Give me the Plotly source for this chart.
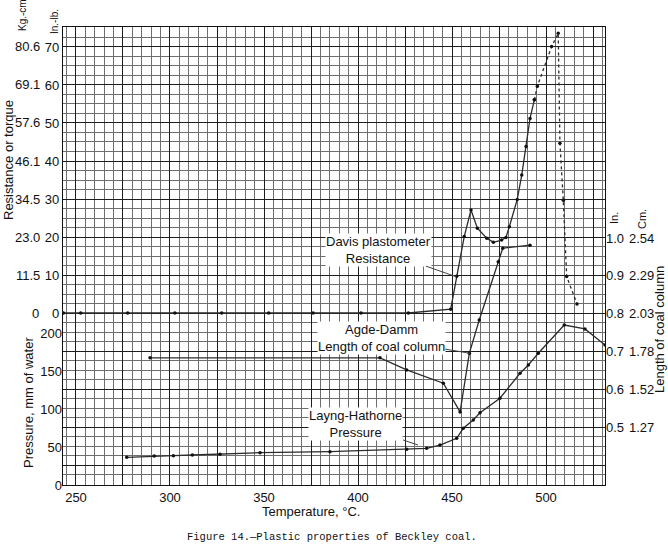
import plotly.graph_objects as go

# ---------------- data ----------------
# Temperature axis (deg C)
x_tickvals = [250, 275, 300, 325, 350, 375, 400, 425, 450, 475, 500, 525]
x_ticktext = ['250', '', '300', '', '350', '', '400', '', '450', '', '500', '']

# Resistance axis (in.-lb.) and matching Kg.-cm labels
r_tickvals = [-40, -30, -20, -10, 0, 10, 20, 30, 40, 50, 60, 70]
r_ticktext = ['', '', '', '', '0', '10', '20', '30', '40', '50', '60', '70']
kg_vals = [0, 10, 20, 30, 40, 50, 60, 70]
kg_text = ['0', '11.5', '23.0', '34.5', '46.1', '57.6', '69.1', '80.6']

# Pressure axis (mm of water)
p_tickvals = [0, 50, 100, 150, 200]
p_ticktext = ['0', '50', '100', '150', '200']

# Length of coal column axis (in.) and matching cm labels
l_tickvals = [0.5, 0.6, 0.7, 0.8, 0.9, 1.0]
l_ticktext = ['0.5', '0.6', '0.7', '0.8', '0.9', '1.0']
cm_text = ['1.27', '1.52', '1.78', '2.03', '2.29', '2.54']

# Davis plastometer resistance (in.-lb.) - solid part
davis_t = [243.3, 252.5, 277.5, 302.6, 327.5, 352.5, 376.1, 401.6, 426.8, 449.3,
           452.5, 456.5, 460.1, 463.5, 468.5, 472.0, 476.4, 478.7, 480.5, 484.7,
           487.1, 489.4, 491.5, 493.8]
davis_r = [0, 0, 0, 0, 0, 0, 0, 0, 0, 1.0,
           9.7, 20.1, 27.1, 22.3, 19.7, 18.6, 19.2, 19.9, 22.7, 29.9,
           36.3, 43.8, 51.2, 56.1]
# Davis plastometer resistance - dotted part
davis_dot_t = [493.8, 495.4, 503.0, 506.5, 507.4, 509.2, 511.0, 516.5]
davis_dot_r = [56.1, 59.7, 70.1, 73.6, 44.7, 29.7, 9.6, 2.4]

# Layng-Hathorne pressure (mm of water)
press_t = [277.0, 291.6, 301.8, 311.9, 326.6, 347.9, 385.1, 425.9, 436.5, 443.6,
           452.5, 456.0, 461.3, 464.9, 475.5, 486.2, 490.6, 495.9, 509.7, 520.7, 531.4]
press_p = [36.4, 38.2, 38.6, 39.5, 40.4, 42.5, 43.8, 47.0, 48.3, 52.6,
           61.4, 74.6, 85.5, 95.1, 114.1, 147.0, 157.9, 173.3, 210.5, 205.3, 184.2]

# Agde-Damm length of coal column (in.)
agde_t = [289.4, 411.7, 425.9, 445.4, 454.3, 459.2, 464.5, 474.6, 477.0, 491.5]
agde_l = [0.683, 0.683, 0.651, 0.616, 0.540, 0.695, 0.783, 0.937, 0.973, 0.981]

# ---------------- figure ----------------
W, H = 668, 544
ML, MR, MT, MB = 63, 63, 27, 59
PW = W - ML - MR
PH = H - MT - MB

def px_to_paper_x(px):
    return (px - ML) / PW

LINE = '#2b2b2b'
font_main = 'Liberation Sans, Arial, sans-serif'

fig = go.Figure()

fig.add_trace(go.Scatter(x=davis_t, y=davis_r, mode='lines+markers',
                         line=dict(color=LINE, width=1.3),
                         marker=dict(color='#111', size=3.5), yaxis='y',
                         showlegend=False, hoverinfo='skip'))
fig.add_trace(go.Scatter(x=davis_dot_t, y=davis_dot_r, mode='lines+markers',
                         line=dict(color=LINE, width=1.3, dash='dot'),
                         marker=dict(color='#111', size=3.5), yaxis='y',
                         showlegend=False, hoverinfo='skip'))
fig.add_trace(go.Scatter(x=press_t, y=press_p, mode='lines+markers',
                         line=dict(color=LINE, width=1.3),
                         marker=dict(color='#111', size=3.5), yaxis='y2',
                         showlegend=False, hoverinfo='skip'))
fig.add_trace(go.Scatter(x=agde_t, y=agde_l, mode='lines+markers',
                         line=dict(color=LINE, width=1.3),
                         marker=dict(color='#111', size=3.5), yaxis='y3',
                         showlegend=False, hoverinfo='skip'))

R_RANGE = [-45.26, 75.26]
P_RANGE = [0, 602.6]
L_RANGE = [0.3466, 1.5582]

tickfont = dict(family=font_main, size=13, color='#111')

fig.update_layout(
    width=W, height=H,
    margin=dict(l=ML, r=MR, t=MT, b=MB),
    paper_bgcolor='white', plot_bgcolor='white',
    xaxis=dict(range=[243.09, 531.38], tickmode='array', tickvals=x_tickvals,
               ticktext=x_ticktext, ticks='', tickfont=tickfont,
               showgrid=True, gridcolor='#1e1e1e', gridwidth=1.3,
               minor=dict(tickmode='linear', tick0=250, dtick=5, showgrid=True,
                          gridcolor='#6e6e6e', gridwidth=1),
               showline=True, linecolor='#111', linewidth=1.3, mirror=True,
               zeroline=False),
    yaxis=dict(range=R_RANGE, tickmode='array', tickvals=r_tickvals,
               ticktext=r_ticktext, ticks='', tickfont=tickfont,
               showgrid=True, gridcolor='#1e1e1e', gridwidth=1.3,
               minor=dict(tickmode='linear', tick0=0, dtick=2.5, showgrid=True,
                          gridcolor='#6e6e6e', gridwidth=1),
               showline=True, linecolor='#111', linewidth=1.3, mirror=True,
               zeroline=False),
    yaxis2=dict(range=P_RANGE, overlaying='y', side='left', anchor='x',
                tickmode='array', tickvals=p_tickvals, ticktext=p_ticktext,
                ticks='', tickfont=tickfont, showgrid=False, zeroline=False),
    yaxis3=dict(range=L_RANGE, overlaying='y', side='right', anchor='x',
                tickmode='array', tickvals=l_tickvals, ticktext=l_ticktext,
                ticks='', tickfont=tickfont, showgrid=False, zeroline=False),
)

annotations = []
# Kg.-cm column
for v, t in zip(kg_vals, kg_text):
    if t == '0':
        annotations.append(dict(x=px_to_paper_x(35), xref='paper', y=v, yref='y',
                                text=t, showarrow=False, xanchor='center',
                                font=tickfont))
    else:
        annotations.append(dict(x=px_to_paper_x(42), xref='paper', y=v, yref='y',
                                text=t, showarrow=False, xanchor='right',
                                font=tickfont))
# Cm column
for v, t in zip(l_tickvals, cm_text):
    annotations.append(dict(x=px_to_paper_x(627), xref='paper', y=v, yref='y3',
                            text=t, showarrow=False, xanchor='left',
                            font=tickfont))

def fig_text(px, py, text, angle=0, size=13, family=font_main, anchor='center'):
    return dict(x=px_to_paper_x(px), xref='paper',
                y=1 - (py - MT) / PH, yref='paper',
                text=text, showarrow=False, textangle=angle,
                xanchor=anchor, yanchor='middle',
                font=dict(family=family, size=size, color='#111'))

annotations += [
    fig_text(23, 15, 'Kg.-cm', angle=-90, size=10),
    fig_text(54, 22, 'In.-lb.', angle=-90, size=10),
    fig_text(9, 160, 'Resistance or torque', angle=-90, size=13),
    fig_text(28, 403, 'Pressure, mm of water', angle=-90, size=13),
    fig_text(614, 218, 'In.', angle=-90, size=11),
    fig_text(642, 219, 'Cm.', angle=-90, size=11),
    fig_text(659, 330, 'Length of coal column', angle=-90, size=13),
    fig_text(311, 511, 'Temperature, °C.', size=13),
    fig_text(332, 537, 'Figure 14.\u2014Plastic properties of Beckley coal.',
             size=10.5, family='Liberation Mono, DejaVu Sans Mono, monospace'),
]

label_font = dict(family=font_main, size=13, color='#111')
# Curve labels with leader lines
annotations += [
    dict(x=452.1, y=9.56, xref='x', yref='y', text='Davis plastometer<br>Resistance',
         showarrow=True, arrowhead=0, arrowwidth=1, arrowcolor='#444',
         ax=-77, ay=-27, bgcolor='white', borderpad=0, font=label_font,
         align='center'),
    dict(x=459.6, y=0.695, xref='x', yref='y3', text='Agde-Damm<br>Length of coal column',
         showarrow=True, arrowhead=0, arrowwidth=1, arrowcolor='#444',
         ax=-89, ay=-15, bgcolor='white', borderpad=0, font=label_font,
         align='center'),
    dict(x=431.9, y=52.6, xref='x', yref='y2', text='Layng-Hathorne<br>Pressure',
         showarrow=True, arrowhead=0, arrowwidth=1, arrowcolor='#444',
         ax=-62, ay=-21, bgcolor='white', borderpad=0, font=label_font,
         align='center'),
]

fig.update_layout(annotations=annotations)
fig.write_html('out.html')
